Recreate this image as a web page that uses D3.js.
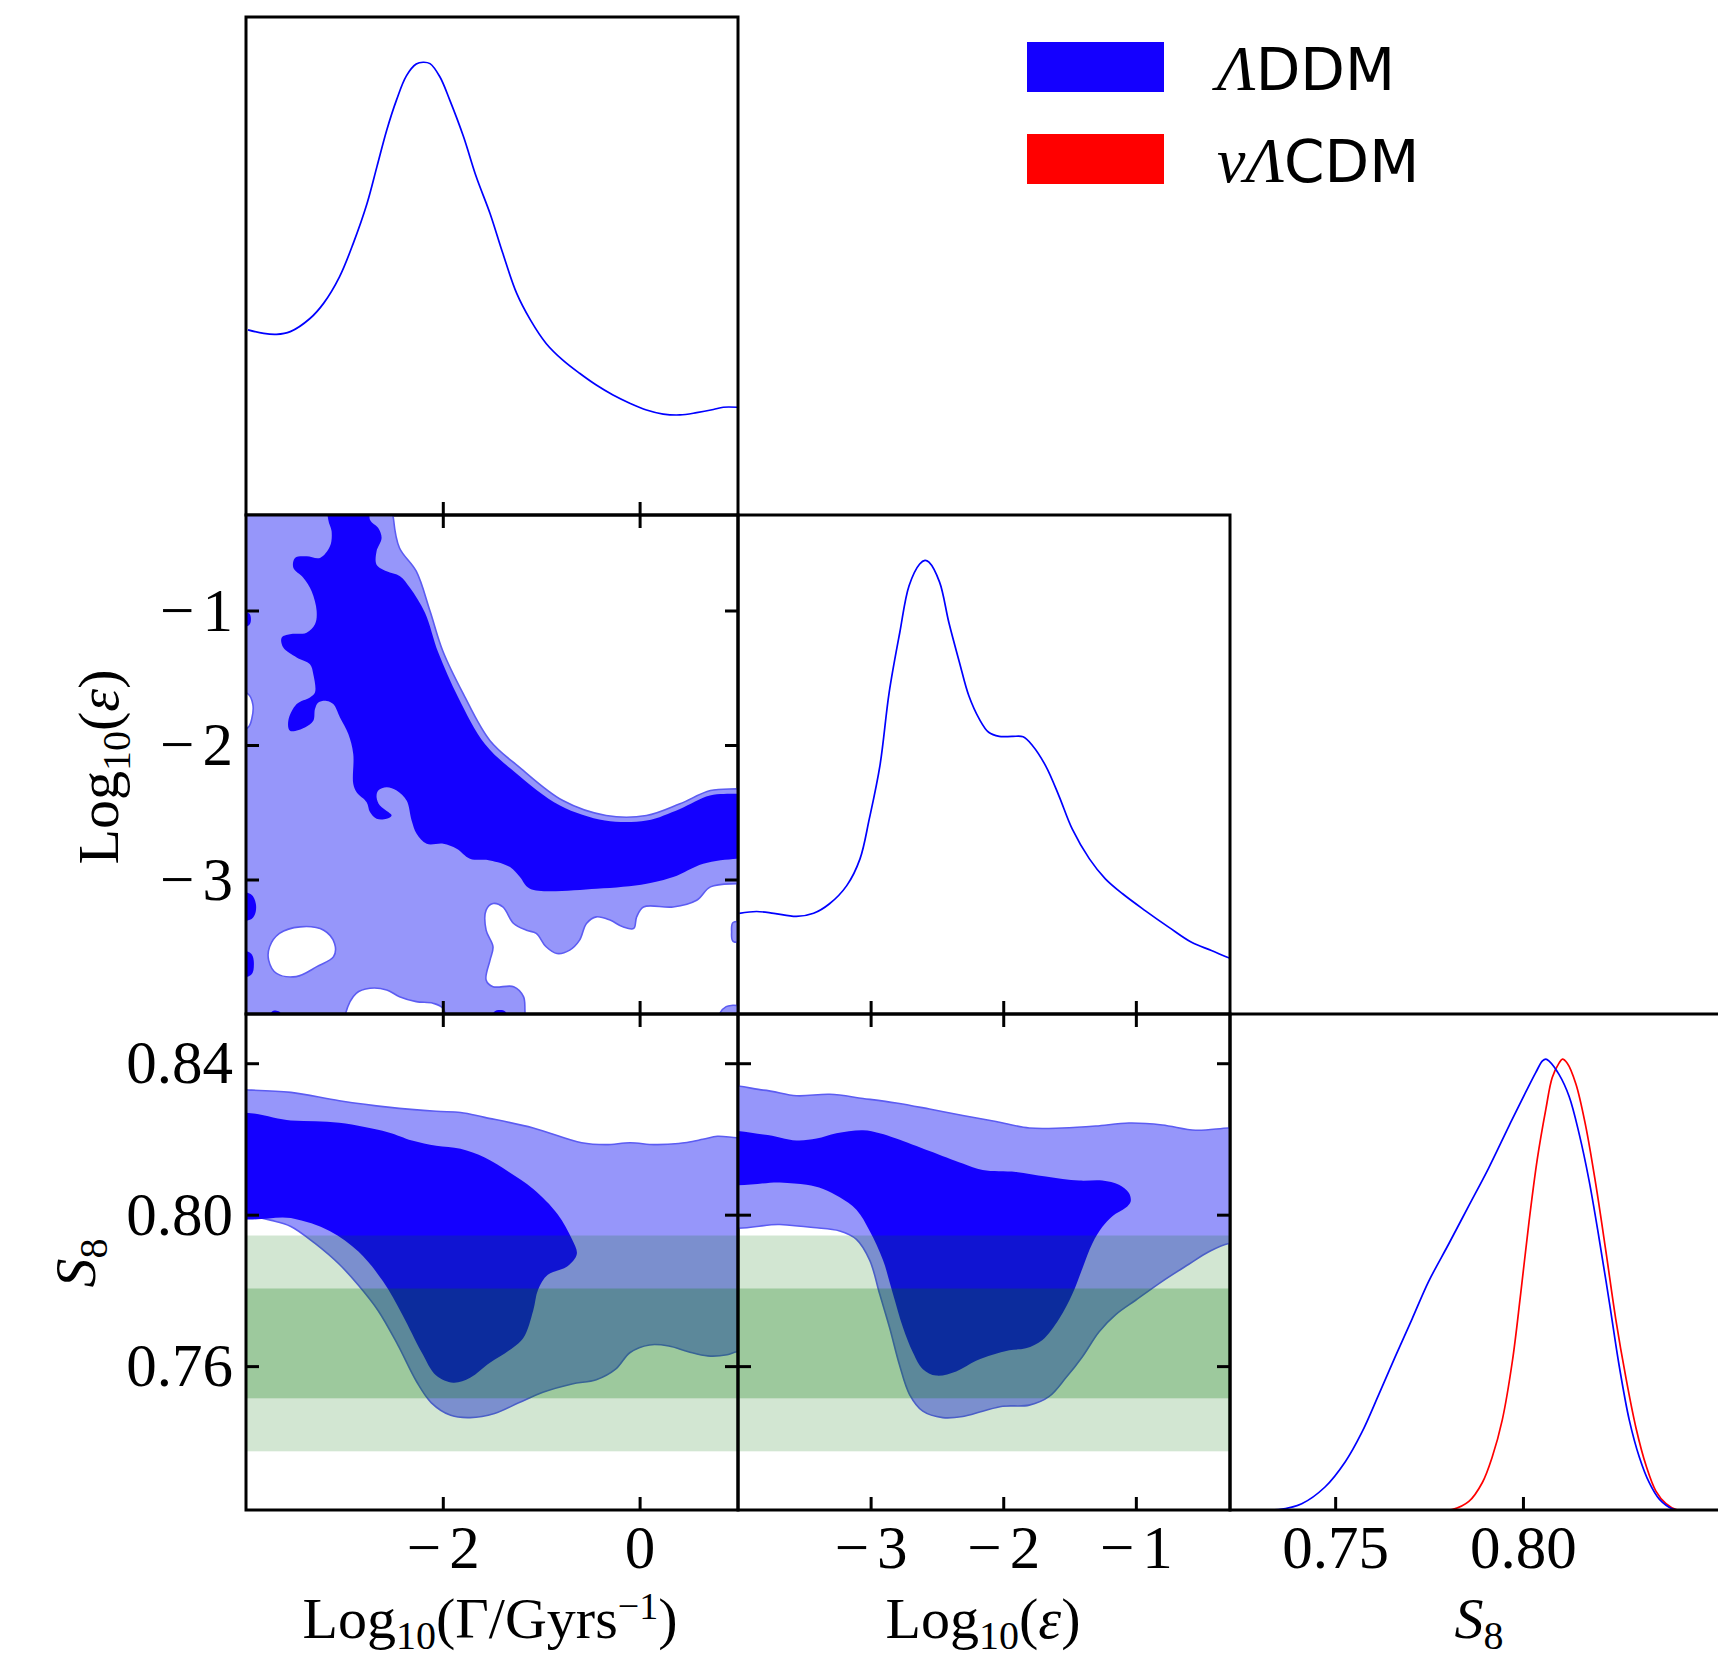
<!DOCTYPE html>
<html><head><meta charset="utf-8">
<script src="https://cdn.jsdelivr.net/npm/d3@7"></script>
<style>body{margin:0;background:#fff} svg{display:block}</style>
</head><body><svg id="c" width="1718" height="1658"></svg>
<script>
// ---------------- DATA ----------------
const gammaDomain = [-4, 1];
const epsDomain = [-4, -0.29];
const s8Domain = [0.722, 0.853];
const pdfDomain = [0, 1.1];

const gammaTicks = [-2, 0];
const epsTicks = [-3, -2, -1];
const s8XTicks = [0.75, 0.80];
const s8YTicks = [0.76, 0.80, 0.84];

const legendLabels = ["ΛDDM", "νΛCDM"];

// S8 external band (1σ, 2σ)
const s8Band1 = [0.7515, 0.7805];
const s8Band2 = [0.7375, 0.7945];

// 1D marginals [value, normalised density]
const pdfGamma = [[-3.98,0.409],[-3.82,0.401],[-3.69,0.399],[-3.55,0.405],[-3.35,0.434],[-3.21,0.468],[-3.05,0.526],[-2.91,0.600],[-2.77,0.688],[-2.67,0.769],[-2.57,0.850],[-2.47,0.917],[-2.37,0.970],[-2.27,0.996],[-2.20,1.000],[-2.13,0.997],[-2.03,0.968],[-1.93,0.917],[-1.79,0.836],[-1.66,0.747],[-1.52,0.666],[-1.39,0.578],[-1.25,0.490],[-1.11,0.431],[-0.95,0.379],[-0.78,0.342],[-0.61,0.313],[-0.44,0.287],[-0.27,0.265],[-0.10,0.247],[0.07,0.232],[0.24,0.223],[0.41,0.221],[0.58,0.226],[0.75,0.233],[0.85,0.238],[0.99,0.238]];
const pdfEps = [[-3.99,0.222],[-3.86,0.226],[-3.73,0.222],[-3.56,0.215],[-3.43,0.222],[-3.31,0.243],[-3.18,0.283],[-3.08,0.342],[-3.01,0.430],[-2.93,0.547],[-2.86,0.709],[-2.78,0.841],[-2.71,0.944],[-2.63,0.992],[-2.59,1.000],[-2.56,0.996],[-2.48,0.952],[-2.41,0.863],[-2.33,0.775],[-2.26,0.702],[-2.18,0.650],[-2.11,0.621],[-2.03,0.612],[-1.93,0.612],[-1.85,0.611],[-1.78,0.592],[-1.68,0.547],[-1.58,0.481],[-1.48,0.408],[-1.35,0.342],[-1.23,0.298],[-1.10,0.265],[-0.93,0.228],[-0.75,0.191],[-0.58,0.158],[-0.43,0.140],[-0.31,0.125],[-0.28,0.122]];
const pdfS8DDM = [[0.7300,0.000],[0.7349,0.001],[0.7411,0.014],[0.7473,0.051],[0.7527,0.107],[0.7571,0.172],[0.7616,0.256],[0.7660,0.340],[0.7705,0.424],[0.7749,0.507],[0.7803,0.591],[0.7856,0.675],[0.7909,0.759],[0.7963,0.852],[0.8007,0.926],[0.8034,0.970],[0.8052,0.996],[0.8061,1.000],[0.8069,0.996],[0.8096,0.966],[0.8123,0.917],[0.8150,0.833],[0.8176,0.731],[0.8203,0.601],[0.8230,0.461],[0.8256,0.321],[0.8283,0.200],[0.8310,0.117],[0.8336,0.061],[0.8363,0.024],[0.8399,0.002],[0.8420,0.000]];
const pdfS8nu = [[0.7780,0.000],[0.7811,0.001],[0.7856,0.019],[0.7892,0.061],[0.7918,0.117],[0.7945,0.200],[0.7972,0.331],[0.7994,0.480],[0.8016,0.638],[0.8038,0.777],[0.8061,0.889],[0.8078,0.959],[0.8096,0.991],[0.8105,1.000],[0.8118,0.991],[0.8141,0.945],[0.8167,0.852],[0.8194,0.722],[0.8221,0.573],[0.8247,0.424],[0.8274,0.294],[0.8301,0.182],[0.8328,0.098],[0.8354,0.042],[0.8381,0.014],[0.8408,0.001],[0.8430,0.000]];

// 2D contours: Log10(Gamma) vs Log10(eps)
const gammaEps2Outer = [[-4.3,-0.1],[1.3,-0.1],[1.3,-4.3],[-4.3,-4.3]];
const gammaEps2Holes = [
  [[-2.50,-0.15],[-2.50,-0.325],[-2.44,-0.535],[-2.27,-0.708],[-2.13,-1.004],[-2.00,-1.301],[-1.79,-1.622],[-1.52,-1.968],[-1.22,-2.166],[-0.78,-2.413],[-0.34,-2.524],[0.07,-2.524],[0.41,-2.437],[0.72,-2.339],[0.99,-2.326],[1.15,-2.32],[1.15,-0.15]],
  [[1.15,-3.03],[0.99,-3.031],[0.72,-3.055],[0.58,-3.154],[0.34,-3.204],[0.04,-3.204],[-0.03,-3.278],[-0.06,-3.364],[-0.17,-3.352],[-0.30,-3.302],[-0.44,-3.278],[-0.54,-3.327],[-0.61,-3.451],[-0.71,-3.525],[-0.84,-3.550],[-0.95,-3.500],[-1.05,-3.401],[-1.15,-3.377],[-1.28,-3.327],[-1.39,-3.204],[-1.49,-3.179],[-1.56,-3.228],[-1.56,-3.377],[-1.49,-3.500],[-1.52,-3.599],[-1.56,-3.747],[-1.49,-3.797],[-1.28,-3.797],[-1.18,-3.871],[-1.165,-3.98],[-1.16,-4.15],[0.80,-4.15],[0.82,-3.99],[0.88,-3.945],[0.95,-3.935],[1.15,-3.93],[1.15,-3.48],[0.95,-3.46],[0.935,-3.39],[0.95,-3.32],[1.15,-3.30]],
  [[-3.76,-3.500],[-3.66,-3.401],[-3.45,-3.352],[-3.21,-3.377],[-3.10,-3.475],[-3.11,-3.574],[-3.28,-3.648],[-3.49,-3.722],[-3.69,-3.698],[-3.77,-3.599]],
  [[-3.00,-4.15],[-2.99,-4.0],[-2.88,-3.846],[-2.74,-3.809],[-2.57,-3.821],[-2.44,-3.871],[-2.27,-3.908],[-2.10,-3.920],[-2.00,-3.957],[-1.96,-4.15]],
  [[-4.15,-1.61],[-3.98,-1.62],[-3.93,-1.70],[-3.94,-1.80],[-3.98,-1.87],[-4.15,-1.88]]
];
const gammaEps1 = [
  [[-3.164,-0.15],[-2.740,-0.15],[-2.740,-0.325],[-2.656,-0.387],[-2.622,-0.461],[-2.673,-0.560],[-2.673,-0.659],[-2.571,-0.708],[-2.435,-0.745],[-2.334,-0.831],[-2.181,-1.017],[-2.046,-1.313],[-1.843,-1.647],[-1.572,-1.993],[-1.267,-2.203],[-0.809,-2.450],[-0.352,-2.561],[0.071,-2.561],[0.410,-2.475],[0.715,-2.376],[0.986,-2.363],[1.15,-2.363],[1.15,-2.845],[0.986,-2.845],[0.647,-2.882],[0.342,-2.981],[0.071,-3.031],[-0.437,-3.068],[-1.114,-3.068],[-1.216,-2.981],[-1.317,-2.907],[-1.521,-2.858],[-1.724,-2.845],[-1.859,-2.771],[-1.995,-2.734],[-2.164,-2.734],[-2.266,-2.660],[-2.317,-2.561],[-2.368,-2.413],[-2.469,-2.339],[-2.571,-2.314],[-2.656,-2.339],[-2.673,-2.388],[-2.639,-2.450],[-2.554,-2.499],[-2.520,-2.524],[-2.571,-2.549],[-2.673,-2.549],[-2.740,-2.499],[-2.774,-2.425],[-2.876,-2.351],[-2.910,-2.289],[-2.910,-2.067],[-2.960,-1.919],[-3.045,-1.795],[-3.113,-1.696],[-3.181,-1.672],[-3.265,-1.684],[-3.299,-1.733],[-3.316,-1.820],[-3.401,-1.869],[-3.553,-1.894],[-3.570,-1.820],[-3.485,-1.696],[-3.350,-1.647],[-3.299,-1.610],[-3.316,-1.474],[-3.350,-1.400],[-3.485,-1.350],[-3.621,-1.276],[-3.638,-1.202],[-3.553,-1.177],[-3.384,-1.165],[-3.299,-1.103],[-3.282,-1.004],[-3.333,-0.856],[-3.418,-0.757],[-3.519,-0.683],[-3.502,-0.609],[-3.384,-0.597],[-3.248,-0.609],[-3.147,-0.523],[-3.130,-0.411],[-3.164,-0.325]],
  [[-4.15,-1.01],[-3.97,-1.02],[-3.95,-1.06],[-3.97,-1.11],[-4.15,-1.12]],
  [[-4.15,-3.10],[-3.95,-3.11],[-3.90,-3.18],[-3.91,-3.26],[-3.96,-3.30],[-4.15,-3.30]],
  [[-4.15,-3.52],[-3.95,-3.55],[-3.92,-3.63],[-3.95,-3.71],[-4.15,-3.72]],
  [[-1.50,-4.15],[-1.48,-3.985],[-1.42,-3.97],[-1.36,-3.985],[-1.35,-4.15]],
  [[-3.76,-4.15],[-3.74,-3.985],[-3.69,-3.975],[-3.65,-3.99],[-3.64,-4.15]]
];

// 2D contours: Log10(Gamma) vs S8
const gammaS8_2 = [[-4.15,0.8329],[-3.963,0.8329],[-3.544,0.8323],[-3.052,0.8301],[-2.559,0.8284],[-2.067,0.8273],[-1.820,0.8270],[-1.574,0.8257],[-1.081,0.8229],[-0.589,0.8190],[-0.342,0.8185],[-0.096,0.8190],[0.150,0.8185],[0.397,0.8188],[0.643,0.8199],[0.791,0.8207],[0.988,0.8203],[1.15,0.8203],[1.15,0.7638],[0.988,0.7638],[0.889,0.7630],[0.692,0.7627],[0.495,0.7638],[0.298,0.7653],[0.101,0.7656],[-0.096,0.7636],[-0.244,0.7592],[-0.441,0.7564],[-0.687,0.7553],[-0.983,0.7531],[-1.229,0.7503],[-1.475,0.7475],[-1.722,0.7464],[-1.919,0.7470],[-2.116,0.7503],[-2.264,0.7558],[-2.461,0.7658],[-2.658,0.7747],[-2.855,0.7813],[-3.052,0.7869],[-3.298,0.7924],[-3.544,0.7969],[-3.741,0.7985],[-3.963,0.7996],[-4.15,0.7996]];
const gammaS8_1 = [[-4.15,0.8259],[-3.544,0.8249],[-3.052,0.8243],[-2.559,0.8218],[-2.313,0.8196],[-2.067,0.8182],[-1.820,0.8174],[-1.574,0.8151],[-1.328,0.8113],[-1.081,0.8068],[-0.835,0.8002],[-0.687,0.7935],[-0.638,0.7896],[-0.736,0.7863],[-0.933,0.7841],[-1.032,0.7802],[-1.081,0.7747],[-1.180,0.7675],[-1.328,0.7641],[-1.525,0.7608],[-1.722,0.7569],[-1.894,0.7556],[-2.067,0.7575],[-2.214,0.7636],[-2.411,0.7736],[-2.608,0.7824],[-2.855,0.7902],[-3.150,0.7957],[-3.544,0.7991],[-4.15,0.8002]];

// 2D contours: Log10(eps) vs S8
const epsS8_2 = [[-4.15,0.8329],[-3.809,0.8329],[-3.559,0.8314],[-3.308,0.8318],[-3.057,0.8307],[-2.807,0.8295],[-2.556,0.8279],[-2.305,0.8262],[-2.055,0.8246],[-1.804,0.8229],[-1.553,0.8229],[-1.302,0.8234],[-1.052,0.8242],[-0.801,0.8237],[-0.550,0.8223],[-0.300,0.8229],[-0.15,0.8229],[-0.15,0.7924],[-0.300,0.7924],[-0.450,0.7902],[-0.601,0.7869],[-0.801,0.7824],[-1.002,0.7774],[-1.152,0.7736],[-1.277,0.7691],[-1.403,0.7625],[-1.528,0.7569],[-1.653,0.7520],[-1.804,0.7497],[-2.004,0.7494],[-2.155,0.7481],[-2.305,0.7467],[-2.456,0.7464],[-2.606,0.7481],[-2.706,0.7525],[-2.782,0.7603],[-2.857,0.7702],[-2.932,0.7791],[-3.007,0.7880],[-3.107,0.7935],[-3.233,0.7957],[-3.433,0.7966],[-3.684,0.7974],[-4.15,0.7980]];
const epsS8_1 = [[-4.15,0.8212],[-3.809,0.8212],[-3.559,0.8196],[-3.408,0.8201],[-3.258,0.8215],[-3.057,0.8223],[-2.932,0.8215],[-2.807,0.8201],[-2.556,0.8168],[-2.305,0.8135],[-2.155,0.8118],[-1.904,0.8113],[-1.679,0.8101],[-1.428,0.8090],[-1.252,0.8090],[-1.127,0.8079],[-1.052,0.8057],[-1.039,0.8035],[-1.077,0.8018],[-1.177,0.7996],[-1.252,0.7968],[-1.328,0.7924],[-1.403,0.7858],[-1.478,0.7791],[-1.578,0.7725],[-1.704,0.7669],[-1.829,0.7647],[-1.954,0.7642],[-2.080,0.7630],[-2.205,0.7614],[-2.355,0.7586],[-2.506,0.7575],[-2.606,0.7592],[-2.681,0.7636],[-2.756,0.7702],[-2.832,0.7791],[-2.907,0.7880],[-3.007,0.7957],[-3.107,0.8013],[-3.233,0.8046],[-3.358,0.8068],[-3.483,0.8079],[-3.684,0.8085],[-4.15,0.8090]];

// ---------------- STYLE / LAYOUT ----------------
const colX = [246, 738, 1230, 1722];
const rowY = [17, 515, 1014, 1510];
const C = { dark: "#1400ff", light: "#9696fa", edge: "#5c5cf2", green: "#007300", blue: "#0000ff", red: "#ff0000" };
const serif = "'Liberation Serif','Times New Roman',serif";
const sans = "'DejaVu Sans',sans-serif";
const svg = d3.select("#c");
const defs = svg.append("defs");

function panel(col, row, xd, yd) {
  const x = d3.scaleLinear().domain(xd).range([colX[col], colX[col + 1]]);
  const y = d3.scaleLinear().domain(yd).range([rowY[row + 1], rowY[row]]);
  const id = "clip" + col + row;
  defs.append("clipPath").attr("id", id).append("rect")
    .attr("x", colX[col]).attr("y", rowY[row])
    .attr("width", colX[col + 1] - colX[col]).attr("height", rowY[row + 1] - rowY[row]);
  const g = svg.append("g").attr("clip-path", `url(#${id})`);
  return { x, y, g, col, row };
}
const smooth = (p) => d3.line().x(d => p.x(d[0])).y(d => p.y(d[1])).curve(d3.curveCatmullRomClosed.alpha(0.5));
const straight = (p) => d3.line().x(d => p.x(d[0])).y(d => p.y(d[1])).curve(d3.curveLinearClosed);
const open = (p) => d3.line().x(d => p.x(d[0])).y(d => p.y(d[1])).curve(d3.curveCatmullRom.alpha(0.5));

function fillRegion(p, d, color, stroke) {
  p.g.append("path").attr("d", d).attr("fill", color).attr("fill-rule", "evenodd")
    .attr("stroke", stroke || "none").attr("stroke-width", stroke ? 1.6 : 0);
}
function bands(p) {
  [s8Band2, s8Band1].forEach((b, i) => {
    p.g.append("rect").attr("x", colX[p.col]).attr("width", colX[p.col + 1] - colX[p.col])
      .attr("y", p.y(b[1])).attr("height", p.y(b[0]) - p.y(b[1]))
      .attr("fill", C.green).attr("fill-opacity", i === 0 ? 0.175 : 0.25);
  });
}
function frame(p) {
  svg.append("rect").attr("x", colX[p.col]).attr("y", rowY[p.row])
    .attr("width", colX[p.col + 1] - colX[p.col]).attr("height", rowY[p.row + 1] - rowY[p.row])
    .attr("fill", "none").attr("stroke", "#000").attr("stroke-width", 3);
}
const intFmt = d3.format("d"), s8Fmt = d3.format(".2f");
function axis(gen, tr, values, fmt, pad) {
  const a = gen.tickValues(values).tickSize(-13).tickSizeOuter(0).tickPadding(pad || 14)
    .tickFormat(fmt || (() => ""));
  const g = svg.append("g").attr("transform", tr).call(a);
  g.select(".domain").remove();
  g.selectAll(".tick line").attr("stroke", "#000").attr("stroke-width", 3);
  g.attr("font-family", serif).attr("font-size", 61);
  g.selectAll("text").attr("fill", "#000").each(function () {
    const t = d3.select(this), s = t.text();
    if (!s) { t.remove(); return; }
    if (s.startsWith("−")) {
      t.text("");
      t.append("tspan").text("−");
      t.append("tspan").attr("dx", 8).text(s.slice(1));
    }
  });
  return g;
}
function ticks2D(p, xt, yt, xFmt, yFmt) {
  axis(d3.axisTop(p.x), `translate(0,${rowY[p.row]})`, xt);
  axis(d3.axisBottom(p.x), `translate(0,${rowY[p.row + 1]})`, xt, xFmt, 15);
  axis(d3.axisLeft(p.y), `translate(${colX[p.col]},0)`, yt, yFmt, 13);
  axis(d3.axisRight(p.y), `translate(${colX[p.col + 1]},0)`, yt);
}

// ---------------- PANELS ----------------
// (1) 1D Log10 Gamma
const p1 = panel(0, 0, gammaDomain, pdfDomain);
p1.g.append("path").attr("d", open(p1)(pdfGamma)).attr("fill", "none").attr("stroke", C.blue).attr("stroke-width", 1.7);
frame(p1);
axis(d3.axisBottom(p1.x), `translate(0,${rowY[1]})`, gammaTicks);

// (2) 1D Log10 eps
const p5 = panel(1, 1, epsDomain, pdfDomain);
p5.g.append("path").attr("d", open(p5)(pdfEps)).attr("fill", "none").attr("stroke", C.blue).attr("stroke-width", 1.7);
frame(p5);
axis(d3.axisBottom(p5.x), `translate(0,${rowY[2]})`, epsTicks);

// (3) 1D S8
const p9 = panel(2, 2, s8Domain, pdfDomain);
p9.g.append("path").attr("d", open(p9)(pdfS8nu)).attr("fill", "none").attr("stroke", C.red).attr("stroke-width", 1.7);
p9.g.append("path").attr("d", open(p9)(pdfS8DDM)).attr("fill", "none").attr("stroke", C.blue).attr("stroke-width", 1.7);
frame(p9);
axis(d3.axisBottom(p9.x), `translate(0,${rowY[3]})`, s8XTicks, s8Fmt, 15);

// (4) Gamma vs eps
const p4 = panel(0, 1, gammaDomain, epsDomain);
fillRegion(p4, straight(p4)(gammaEps2Outer) + gammaEps2Holes.map(h => smooth(p4)(h)).join(""), C.light, C.edge);
gammaEps1.forEach(r => fillRegion(p4, smooth(p4)(r), C.dark));
frame(p4);
ticks2D(p4, gammaTicks, epsTicks, null, intFmt);

// (7) Gamma vs S8
const p7 = panel(0, 2, gammaDomain, s8Domain);
fillRegion(p7, smooth(p7)(gammaS8_2), C.light, C.edge);
fillRegion(p7, smooth(p7)(gammaS8_1), C.dark);
bands(p7);
frame(p7);
ticks2D(p7, gammaTicks, s8YTicks, intFmt, s8Fmt);

// (8) eps vs S8
const p8 = panel(1, 2, epsDomain, s8Domain);
fillRegion(p8, smooth(p8)(epsS8_2), C.light, C.edge);
fillRegion(p8, smooth(p8)(epsS8_1), C.dark);
bands(p8);
frame(p8);
ticks2D(p8, epsTicks, s8YTicks, intFmt, null);

// ---------------- LABELS ----------------
function label(x, y, rot, parts, size) {
  const t = svg.append("text").attr("transform", `translate(${x},${y}) rotate(${rot})`)
    .attr("text-anchor", "middle").attr("font-family", serif).attr("font-size", size).attr("fill", "#000");
  parts.forEach(pt => {
    const s = t.append("tspan").text(pt.t);
    if (pt.fs) s.attr("font-size", pt.fs);
    if (pt.dy) s.attr("dy", pt.dy);
    if (pt.it) s.attr("font-style", "italic");
  });
}
label(490, 1638, 0, [{ t: "Log" }, { t: "10", fs: 40, dy: 11 }, { t: "(Γ/Gyrs", dy: -11 }, { t: "−1", fs: 38, dy: -19 }, { t: ")", dy: 19 }], 58);
label(983, 1638, 0, [{ t: "Log" }, { t: "10", fs: 40, dy: 11 }, { t: "(", dy: -11 }, { t: "ε", it: 1 }, { t: ")" }], 58);
label(1479, 1638, 0, [{ t: "S", it: 1 }, { t: "8", fs: 40, dy: 11 }], 58);
label(118, 767, -90, [{ t: "Log" }, { t: "10", fs: 40, dy: 12 }, { t: "(", dy: -12 }, { t: "ε", it: 1 }, { t: ")" }], 58);
label(95, 1263, -90, [{ t: "S", it: 1 }, { t: "8", fs: 40, dy: 12 }], 58);

// ---------------- LEGEND ----------------
const legColors = [C.dark, C.red];
legendLabels.forEach((lab, i) => {
  svg.append("rect").attr("x", 1027).attr("y", 42 + i * 92).attr("width", 137).attr("height", 50).attr("fill", legColors[i]);
  const t = svg.append("text").attr("x", 1217).attr("y", 90 + i * 92).attr("font-family", sans).attr("font-size", 58).attr("fill", "#000");
  const greek = lab.match(/^[^A-Z]+/)[0];
  t.append("tspan").attr("font-family", serif).attr("font-style", "italic").attr("font-size", 64).text(greek);
  t.append("tspan").text(lab.slice(greek.length));
});
</script></body></html>
